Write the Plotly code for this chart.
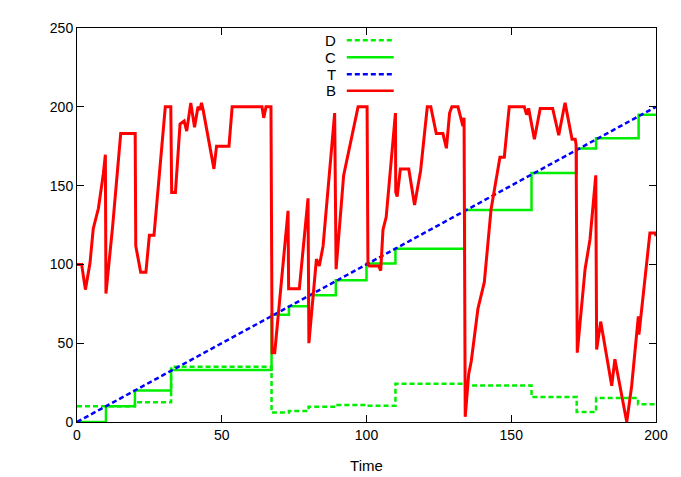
import plotly.graph_objects as go

# time axis data
t_x = [0, 200]
t_y = [0, 200]

c_x = [0, 10, 20, 32.5, 67.2, 73.2, 80, 89.4, 100, 110, 134, 157, 172.6, 179.3, 194, 200]
c_y = [0, 10, 20, 33, 68, 73.5, 80.5, 90, 100.5, 110, 134.5, 158, 173.5, 180, 195, 195]

d_x = [0, 20, 32.5, 67.2, 73.2, 80, 89.4, 100, 110, 133.7, 157, 172.6, 179.3, 193.8, 200]
d_y = [10, 12.5, 35, 6, 7, 9.6, 10.8, 10.3, 24.2, 23.2, 15.8, 6.4, 15.2, 11.3, 11.3]

b_x = [0, 1.6, 2.9, 4.5, 5.6, 7.4, 9.1, 9.8, 10.0, 12.3, 15.1, 20.1, 20.3, 22.0, 23.8,
       25.0, 26.6, 30.5, 32.4, 32.7, 34.0, 35.6, 37.0, 37.9, 39.3, 40.6, 41.8, 42.5,
       43.0, 43.6, 47.3, 48.2, 52.5, 53.6, 63.9, 64.5, 65.3, 67.0, 67.4, 68.3, 72.9,
       73.1, 76.8, 79.8, 80.1, 82.7, 83.7, 85.0, 89.0, 89.5, 92.1, 97.1, 100.2, 100.5,
       101.0, 104.2, 104.9, 105.7, 106.8, 110.0, 110.1, 110.6, 111.7, 114.6, 116.6,
       118.7, 121.0, 122.2, 124.1, 126.4, 127.6, 128.7, 129.5, 131.6, 133.3, 133.7,
       134.1, 135.3, 136.2, 137.4, 138.5, 140.7, 143.0, 146.1, 147.6, 149.3, 154.5,
       155.3, 156.0, 158.0, 160.0, 164.3, 166.4, 168.3, 168.6, 171.0, 172.1, 172.4,
       172.8, 175.5, 177.2, 179.2, 179.5, 180.9, 184.7, 185.8, 189.9, 191.6, 193.9,
       194.1, 197.9, 199.7, 200]
b_y = [100, 100, 84, 101, 122.5, 135.6, 157.5, 169.6, 81.5, 124, 183, 183, 111.7, 95, 95,
       118.5, 118.5, 200, 200, 145.6, 145.6, 189, 191, 184.6, 202.5, 187, 200, 198,
       202.5, 197.7, 160.6, 175, 175, 200, 200, 193, 200, 200, 44, 44, 134,
       84.6, 84.6, 141.9, 50, 103.3, 99, 111.7, 196, 97, 156.5, 200, 200, 100,
       99, 99, 96, 122, 130, 196, 146, 143, 160.6, 160.6, 137.7,
       159.6, 200, 200, 183, 183, 173.7, 196, 200, 200, 187.7, 193,
       3.3, 30.4, 38.7, 55.4, 72, 88.7, 134.6, 168, 168, 200, 200,
       195, 199, 179.4, 199, 199, 182, 200, 202.5, 179.4, 179.4, 176,
       44, 97, 115.8, 156.5, 46, 63.7, 23, 39.8, 0, 23, 67,
       55.4, 120, 120, 118]

GREEN = '#00ee00'
fig = go.Figure()
fig.add_trace(go.Scatter(x=d_x, y=d_y, name='D', mode='lines', line_shape='hv',
                         line=dict(color=GREEN, width=2.5, dash='5px,3px')))
fig.add_trace(go.Scatter(x=c_x, y=c_y, name='C', mode='lines', line_shape='hv',
                         line=dict(color=GREEN, width=2.5)))
fig.add_trace(go.Scatter(x=t_x, y=t_y, name='T', mode='lines',
                         line=dict(color='#0000ff', width=2.5, dash='5px,3px')))
fig.add_trace(go.Scatter(x=b_x, y=b_y, name='B', mode='lines',
                         line=dict(color='#ff0000', width=3)))

# gnuplot style key: label on the left, line sample on the right
key = [('D', GREEN, '5px,3px'), ('C', GREEN, 'solid'),
       ('T', '#0000ff', '5px,3px'), ('B', '#ff0000', 'solid')]
rows = [0.969, 0.926, 0.8825, 0.841]
for (name, color, dash), ky in zip(key, rows):
    fig.add_annotation(text=name, x=0.449, y=ky, xref='paper', yref='paper',
                       xanchor='right', yanchor='middle', showarrow=False,
                       borderpad=0, font=dict(size=15, color='black'))
    fig.add_shape(type='line', xref='paper', yref='paper', x0=0.466, x1=0.547,
                  y0=ky, y1=ky, line=dict(color=color, width=2.5, dash=dash))

axis = dict(showgrid=False, zeroline=False, showline=True, linecolor='black',
            linewidth=1, mirror='ticks', ticks='inside', ticklen=7,
            tickcolor='black', tickfont=dict(size=14, color='black'))
fig.update_xaxes(range=[0, 200], dtick=50, title=dict(text='Time', standoff=18,
                 font=dict(size=15, color='black')), **axis)
fig.update_yaxes(range=[0, 250], dtick=50, **axis)
# the page body adds an 8px offset, so margins are shifted to put the plot box
# where the reference has it
fig.update_layout(width=681, height=477, showlegend=False,
                  plot_bgcolor='white', paper_bgcolor='white',
                  font=dict(family='Liberation Sans, Arial, sans-serif'),
                  margin=dict(l=69, r=33, t=14, b=63))
fig.write_html("out.html")
